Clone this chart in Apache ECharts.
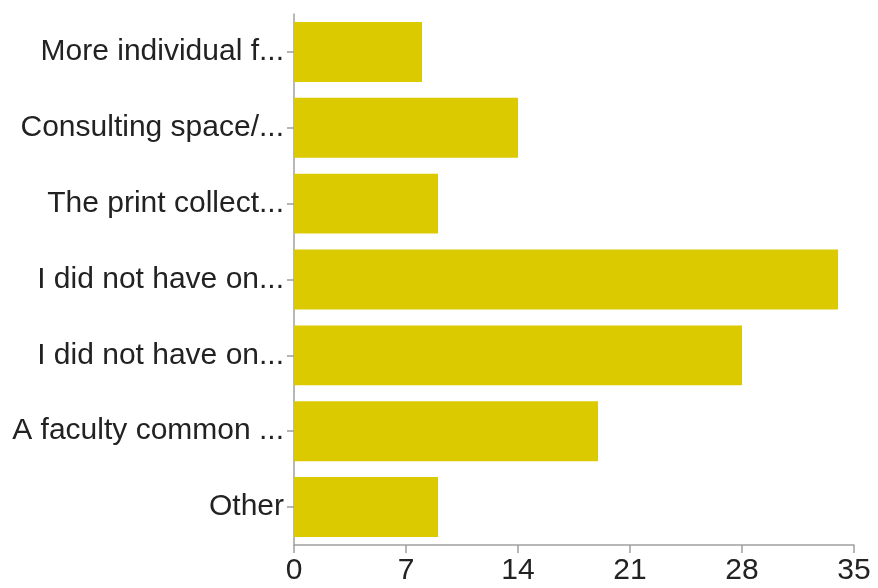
<!DOCTYPE html>
<html>
<head>
<meta charset="utf-8">
<script src="https://cdn.jsdelivr.net/npm/echarts@6/dist/echarts.min.js"></script>
<style>
html,body{margin:0;padding:0;background:#fff;}
#chart{width:878px;height:588px;}
</style>
</head>
<body>
<div id="chart"></div>
<script>
const categories = [
  "More individual f...",
  "Consulting space/...",
  "The print collect...",
  "I did not have on...",
  "I did not have on...",
  "A faculty common ...",
  "Other"
];
const values = [8, 14, 9, 34, 28, 19, 9];
const xTicks = [0, 7, 14, 21, 28, 35];

const chart = echarts.init(document.getElementById('chart'), null, {renderer: 'canvas'});
chart.setOption({
  animation: false,
  backgroundColor: '#ffffff',
  grid: {left: 294, right: 24, top: 14, bottom: 43, containLabel: false},
  xAxis: {
    type: 'value',
    min: xTicks[0],
    max: xTicks[xTicks.length - 1],
    interval: 7,
    splitLine: {show: false},
    axisLine: {show: true, lineStyle: {color: '#a0a0a0', width: 1.5}},
    axisTick: {show: true, length: 8, lineStyle: {color: '#a0a0a0', width: 1.5}},
    axisLabel: {color: '#222', fontSize: 30, fontFamily: 'Liberation Sans, Arial, sans-serif', margin: 11}
  },
  yAxis: {
    type: 'category',
    data: categories,
    inverse: true,
    axisLine: {show: true, lineStyle: {color: '#a0a0a0', width: 1.5}},
    axisTick: {show: true, alignWithLabel: true, length: 7, lineStyle: {color: '#a0a0a0', width: 1.5}},
    axisLabel: {color: '#222', fontSize: 30, fontFamily: 'Liberation Sans, Arial, sans-serif', margin: 10},
    splitLine: {show: false}
  },
  series: [{
    type: 'bar',
    data: values,
    barCategoryGap: '21%',
    itemStyle: {color: '#DCCA00'},
    silent: true
  }]
});
</script>
</body>
</html>
